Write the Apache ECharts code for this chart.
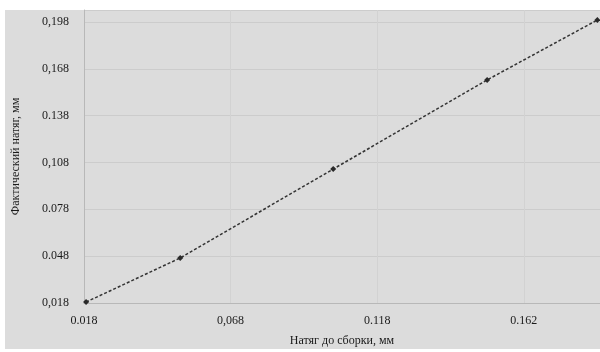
<!DOCTYPE html>
<html>
<head>
<meta charset="utf-8">
<script src="https://cdn.jsdelivr.net/npm/echarts@6/dist/echarts.min.js"></script>
<style>html,body{margin:0;padding:0;background:#fff}#c{width:600px;height:352px}</style>
</head>
<body>
<div id="c"></div>
<script>
// Data
var xValues = [0.0187, 0.0508, 0.1030, 0.1555, 0.1931];
var yValues = [0.0186, 0.0468, 0.1038, 0.1609, 0.1993];
var xTickLabels = ['0.018', '0,068', '0.118', '0.162'];
var yTickLabels = ['0,018', '0.048', '0.078', '0,108', '0.138', '0,168', '0,198'];
var xName = 'Натяг до сборки, мм';
var yName = 'Фактический натяг, мм';
var origin = 0.018;
var xStep = 0.05, yStep = 0.03;

var pts = xValues.map(function (x, i) { return [x - origin, yValues[i] - origin]; });

function labelFrom(list, step) {
  return function (v) {
    var k = v / step;
    var r = Math.round(k);
    if (Math.abs(k - r) > 1e-6) return '';
    return list[r] || '';
  };
}

var font = '"Liberation Serif", "DejaVu Serif", serif';
var textColor = '#1a1a1a';
var chart = echarts.init(document.getElementById('c'), null, {renderer: 'canvas'});
chart.setOption({
  backgroundColor: '#ffffff',
  animation: false,
  graphic: [{
    type: 'rect', z: -10, silent: true,
    shape: {x: 5, y: 10, width: 595, height: 339},
    style: {fill: '#dcdcdc'}
  }],
  grid: {left: 84, right: 0, top: 10, bottom: 49},
  xAxis: {
    type: 'value', min: 0, max: 0.176, interval: xStep,
    name: xName, nameLocation: 'middle', nameGap: 32,
    nameTextStyle: {fontFamily: font, fontSize: 12, color: textColor},
    axisLine: {show: true, lineStyle: {color: '#b8b8b8', width: 1}},
    axisTick: {show: false},
    axisLabel: {formatter: labelFrom(xTickLabels, xStep), fontFamily: font, fontSize: 12, color: textColor, margin: 12, showMaxLabel: false},
    splitLine: {show: true, lineStyle: {color: '#d2d2d2', width: 1}}
  },
  yAxis: {
    type: 'value', min: 0, max: 0.1877, interval: yStep,
    name: yName, nameLocation: 'middle', nameGap: 62, nameRotate: 90,
    nameTextStyle: {fontFamily: font, fontSize: 12, color: textColor},
    axisLine: {show: true, lineStyle: {color: '#b8b8b8', width: 1}},
    axisTick: {show: false},
    axisLabel: {formatter: labelFrom(yTickLabels, yStep), fontFamily: font, fontSize: 12, color: textColor, margin: 15, showMaxLabel: false},
    splitLine: {show: true, lineStyle: {color: '#cccccc', width: 1}}
  },
  series: [{
    type: 'line',
    data: pts,
    symbol: 'diamond', symbolSize: 6,
    itemStyle: {color: '#2a2a2a'},
    lineStyle: {color: '#333333', width: 1.5, type: [3, 2]},
    clip: false
  }]
});
</script>
</body>
</html>
